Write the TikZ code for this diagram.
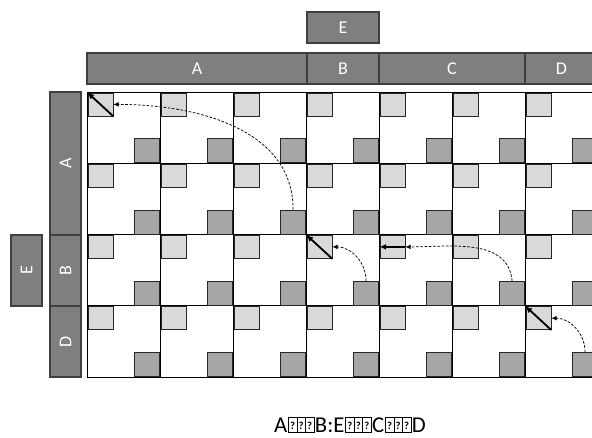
\documentclass[tikz,border=0pt]{standalone}
\usepackage{fontspec}
\setsansfont{Carlito}
\usetikzlibrary{arrows.meta,positioning}
\definecolor{barGray}{HTML}{7F7F7F}
\definecolor{barEdge}{HTML}{3F3F3F}
\definecolor{liteGray}{HTML}{D9D9D9}
\definecolor{darkGray}{HTML}{A6A6A6}
\newcommand{\qmk}{{\setlength{\fboxsep}{0pt}\setlength{\fboxrule}{0.4pt}\fbox{\makebox[6pt]{\rule{0pt}{11pt}\fontsize{8}{8}\selectfont\bfseries\raisebox{2.5pt}{?}}}}}
\newcommand{\tofu}{\kern0.6pt\qmk\kern-0.4pt\qmk\kern-0.4pt\qmk\kern0.6pt}

\begin{document}
\begin{tikzpicture}[x=0.75pt,y=-0.75pt,node distance=0pt,
  every node/.style={font=\sffamily\fontsize{13.5}{16}\selectfont},
  bar/.style={draw=barEdge,line width=0.9pt,fill=barGray,text=white,inner sep=0pt,outer sep=0pt,minimum height=23.25pt},
  sidebar/.style={bar,minimum width=23.25pt,minimum height=53.25pt},
  lite/.style={draw=black!85,line width=0.6pt,fill=liteGray,inner sep=0pt,minimum width=18.75pt,minimum height=17.25pt,anchor=north west},
  dark/.style={draw=black!85,line width=0.6pt,fill=darkGray,inner sep=0pt,minimum width=18.75pt,minimum height=18pt,anchor=south east},
  cell/.style={line width=0.75pt},
  move/.style={-{Latex[length=5pt,width=4.5pt]},line width=1.4pt},
  hop/.style={-{Latex[length=4pt,width=3.5pt]},line width=0.55pt,dash pattern=on 2pt off 1.2pt}]
  \useasboundingbox (0,0) rectangle (592,437);
  \clip (0,0) rectangle (592,437);
  % grid
  \foreach \c in {0,...,7} \draw[cell] ({87+73*\c},92) -- ({87+73*\c},377);
  \foreach \r in {0,...,4} \draw[cell] (87,{92+71.25*\r}) -- (598,{92+71.25*\r});
  % squares
  \foreach \r in {1,...,4} \foreach \c in {1,...,7} {
    \node[lite] (l-\r-\c) at ({87.5+73*(\c-1)},{92.5+71.25*(\r-1)}) {};
    \node[dark] (d-\r-\c) at ({87+73*\c},{92+71.25*\r}) {};
  }
  % bars
  \node[bar,minimum width=165pt,anchor=north west] (tA) at (87,53) {A};
  \node[bar,minimum width=54pt,right=of tA] (tB) {B};
  \node[bar,minimum width=109.5pt,right=of tB] (tC) {C};
  \node[bar,minimum width=54.75pt,right=of tC] (tD) {D};
  \node[bar,minimum width=54pt,above=7.5pt of tB] (tE) {E};
  \node[sidebar,minimum height=107.25pt,anchor=north west] (sA) at (50,92) {\rotatebox{90}{A}};
  \node[sidebar,below=of sA] (sB) {\rotatebox{90}{B}};
  \node[sidebar,below=of sB] (sD) {\rotatebox{90}{D}};
  \node[sidebar,left=6pt of sB] (sE) {\rotatebox{90}{E}};
  % moves
  \draw[move] (l-1-1.south east) -- (l-1-1.north west);
  \draw[move] (l-3-4.south east) -- (l-3-4.north west);
  \draw[move] (l-3-5.east) -- (l-3-5.west);
  \draw[move] (l-4-7.south east) -- (l-4-7.north west);
  \draw[hop] (d-2-3.north) to[out=90,in=0] (l-1-1.east);
  \draw[hop] (d-3-4.north) to[out=90,in=0] (l-3-4.east);
  \draw[hop] (d-3-6.north) to[out=95,in=0] (l-3-5.east);
  \draw[hop] (d-4-7.north) to[out=90,in=0] (l-4-7.east);
  \node[font=\sffamily\fontsize{17}{20}\selectfont] (cap) at (350,425) {A\tofu B:E\tofu C\tofu D};
\end{tikzpicture}
\end{document}
